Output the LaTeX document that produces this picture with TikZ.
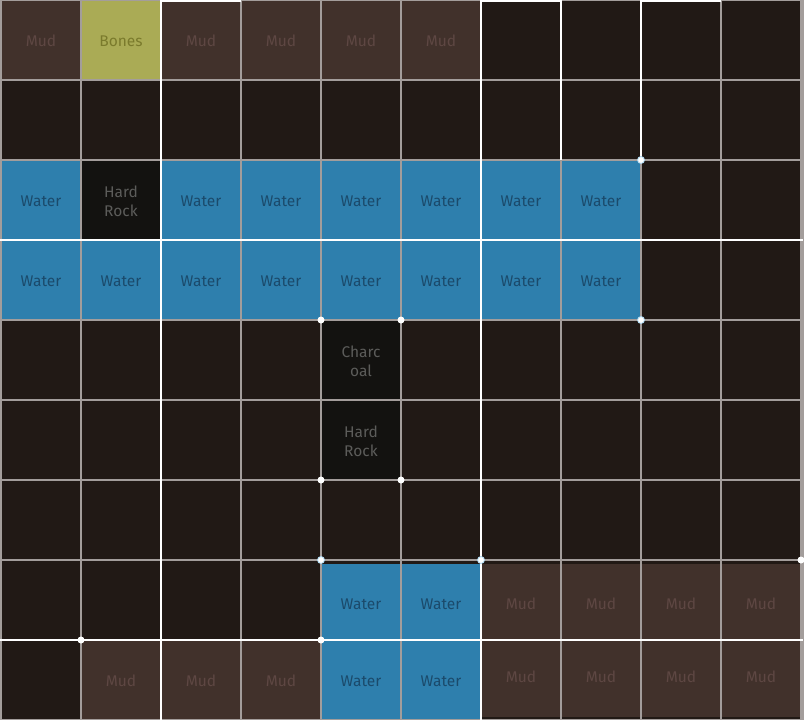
\documentclass[tikz,border=0pt]{standalone}
\usepackage{fontspec}
\setmainfont{Fira Sans}
\usepackage{xcolor}
\usepackage{tikz}

\definecolor{bgdark}{HTML}{211915}
\definecolor{mudfill}{HTML}{41312B}
\definecolor{mudtext}{HTML}{5E4743}
\definecolor{bonefill}{HTML}{AAAB55}
\definecolor{bonetext}{HTML}{7A7A2C}
\definecolor{waterfill}{HTML}{2E7FAD}
\definecolor{watertext}{HTML}{1B4A6B}
\definecolor{rockfill}{HTML}{131210}
\definecolor{rocktext}{HTML}{5C5C5A}
\definecolor{gridgray}{HTML}{A39D9B}
\definecolor{dotblue}{HTML}{A8D4EE}

\tikzset{
  cell/.style={minimum width=80pt,minimum height=80pt,inner sep=0pt,align=center,
    font=\fontsize{15.5}{19}\selectfont},
  mud/.style={cell,fill=mudfill,text=mudtext},
  bones/.style={cell,fill=bonefill,text=bonetext},
  water/.style={cell,fill=waterfill,text=watertext},
  rock/.style={cell,fill=rockfill,text=rocktext},
  corner/.style={circle,fill=white,inner sep=0pt,minimum size=7pt},
  bluecorner/.style={corner,draw=dotblue,line width=0.8pt}
}

\begin{document}
\begin{tikzpicture}[x=1pt,y=-1pt]
  \useasboundingbox (0,0) rectangle (806,720);
  \fill[bgdark] (0,0) rectangle (803,720);
  % row 0
  \node[mud]   (m00) at (41,41)  {Mud};
  \node[bones] (b01) at (121,41) {Bones};
  \node[mud]   (m02) at (201,41) {Mud};
  \node[mud]   (m03) at (281,41) {Mud};
  \node[mud]   (m04) at (361,41) {Mud};
  \node[mud]   (m05) at (441,41) {Mud};
  % row 2
  \node[water] (w20) at (41,201)  {Water};
  \node[rock]  (r21) at (121,201) {Hard\\Rock};
  \node[water] (w22) at (201,201) {Water};
  \node[water] (w23) at (281,201) {Water};
  \node[water] (w24) at (361,201) {Water};
  \node[water] (w25) at (441,201) {Water};
  \node[water] (w26) at (521,201) {Water};
  \node[water] (w27) at (601,201) {Water};
  % row 3
  \node[water] (w30) at (41,281)  {Water};
  \node[water] (w31) at (121,281) {Water};
  \node[water] (w32) at (201,281) {Water};
  \node[water] (w33) at (281,281) {Water};
  \node[water] (w34) at (361,281) {Water};
  \node[water] (w35) at (441,281) {Water};
  \node[water] (w36) at (521,281) {Water};
  \node[water] (w37) at (601,281) {Water};
  % rows 4 and 5
  \node[rock]  (c44) at (361,361) {Charc\\oal};
  \node[rock]  (r54) at (361,441) {Hard\\Rock};
  % row 7
  \node[water] (w74) at (361,604) {Water};
  \node[water] (w75) at (441,604) {Water};
  \node[mud]   (m76) at (521,604) {Mud};
  \node[mud]   (m77) at (601,604) {Mud};
  \node[mud]   (m78) at (681,604) {Mud};
  \node[mud]   (m79) at (761,604) {Mud};
  % row 8
  \node[mud]   (m81) at (121,681) {Mud};
  \node[mud]   (m82) at (201,681) {Mud};
  \node[mud]   (m83) at (281,681) {Mud};
  \node[water] (w84) at (361,681) {Water};
  \node[water] (w85) at (441,681) {Water};
  \node[mud]   (m86) at (521,677) {Mud};
  \node[mud]   (m87) at (601,677) {Mud};
  \node[mud]   (m88) at (681,677) {Mud};
  \node[mud]   (m89) at (761,677) {Mud};
  % grid
  \begin{scope}[gridgray,line width=1.3pt]
    \draw[xshift=1pt] (0,0) grid[step=80pt] (800,720);
    \draw (1,0) -- (1,720);
    \draw (803,0) -- (803,720);
  \end{scope}
  \begin{scope}[white,line width=1.3pt]
    \draw (161,0) -- (161,720);
    \draw (481,0) -- (481,720);
    \draw (561,0) -- (561,160);
    \draw (641,0) -- (641,160);
    \draw (0,240) -- (803,240);
    \draw (0,640) -- (803,640);
    \draw (161,1) -- (241,1);
    \draw (481,1) -- (561,1);
    \draw (641,1) -- (721,1);
  \end{scope}
  % marked corners
  \node[bluecorner] (p1) at (641,160) {};
  \node[bluecorner] (p2) at (641,320) {};
  \node[corner] (p3) at (321,320) {};
  \node[corner] (p4) at (401,320) {};
  \node[corner] (p5) at (321,480) {};
  \node[corner] (p6) at (401,480) {};
  \node[bluecorner] (p7) at (321,560) {};
  \node[bluecorner] (p8) at (481,560) {};
  \node[corner] (p9) at (801,560) {};
  \node[corner] (p10) at (81,640) {};
  \node[corner] (p11) at (321,640) {};
\end{tikzpicture}
\end{document}
